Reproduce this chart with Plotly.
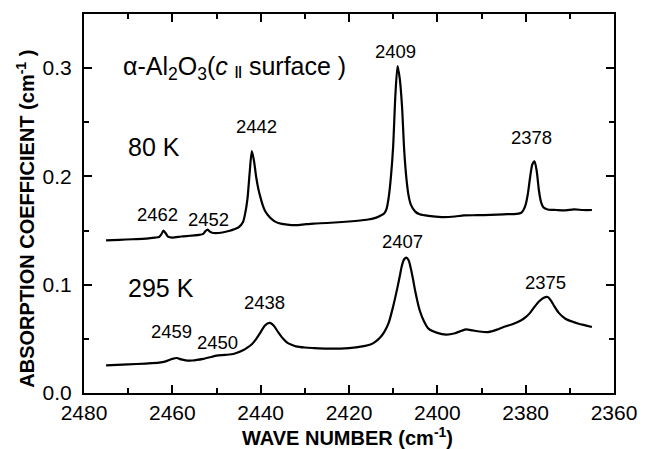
import plotly.graph_objects as go

# Absorption spectra of alpha-Al2O3 (c || surface) at two temperatures
wn_80k = [2475, 2472, 2469, 2466, 2464, 2463, 2462.5, 2462, 2461.5, 2461, 2460, 2458, 2456,
          2454, 2453, 2452.5, 2452, 2451.5, 2451, 2449, 2447, 2446, 2445, 2444, 2443.5, 2443,
          2442.5, 2442, 2441.5, 2441, 2440.5, 2440, 2439.5, 2439, 2438, 2437, 2436, 2434, 2432,
          2430, 2428, 2425, 2420, 2416, 2414, 2413, 2412, 2411.5, 2411, 2410.5, 2410, 2409.5,
          2409, 2408.5, 2408, 2407.5, 2407, 2406.5, 2406, 2405, 2404, 2402, 2399, 2396, 2394,
          2391, 2388, 2385, 2382, 2381, 2380.5, 2380, 2379.5, 2379, 2378.5, 2378, 2377.5, 2377,
          2376.5, 2376, 2375, 2373, 2371, 2369, 2367, 2365]
abs_80k = [0.141, 0.1415, 0.142, 0.1425, 0.1435, 0.144, 0.1465, 0.150, 0.1475, 0.1445, 0.1435,
           0.1445, 0.1452, 0.146, 0.147, 0.1495, 0.151, 0.149, 0.148, 0.148, 0.1498, 0.1512,
           0.153, 0.158, 0.166, 0.179, 0.203, 0.2235, 0.214, 0.199, 0.188, 0.180, 0.173, 0.168,
           0.1625, 0.159, 0.157, 0.1555, 0.155, 0.1558, 0.1565, 0.157, 0.1584, 0.160, 0.1617,
           0.1635, 0.166, 0.170, 0.181, 0.200, 0.228, 0.275, 0.302, 0.290, 0.265, 0.224, 0.198,
           0.182, 0.174, 0.1675, 0.165, 0.1635, 0.1625, 0.163, 0.164, 0.1642, 0.1645, 0.165,
           0.1655, 0.1665, 0.169, 0.174, 0.184, 0.199, 0.211, 0.214, 0.205, 0.187, 0.176, 0.1715,
           0.1695, 0.169, 0.1687, 0.1695, 0.169, 0.169]

wn_295k = [2475, 2470, 2466, 2463, 2461.5, 2460, 2459, 2458, 2457, 2455.5, 2453, 2451, 2450,
           2448, 2446, 2444, 2443, 2442, 2441, 2440, 2439, 2438, 2437.5, 2437, 2436, 2435, 2434,
           2433, 2432, 2430, 2428, 2425, 2420, 2417, 2415, 2414, 2413, 2412, 2411, 2410, 2409,
           2408.5, 2408, 2407.5, 2407, 2406.5, 2406, 2405.5, 2405, 2404, 2403, 2402, 2400, 2398,
           2396, 2394.5, 2393.5, 2392, 2390.5, 2388.5, 2386.5, 2385, 2383, 2381, 2380, 2379,
           2378, 2377, 2376, 2375, 2374.3, 2373.5, 2372.5, 2371, 2369.5, 2368, 2366.5, 2365]
abs_295k = [0.0256, 0.0264, 0.0272, 0.0280, 0.0292, 0.0315, 0.0323, 0.0310, 0.0302, 0.0300,
            0.0315, 0.0335, 0.0345, 0.0352, 0.0362, 0.0394, 0.0420, 0.0450, 0.0500, 0.0563,
            0.0625, 0.0647, 0.0640, 0.0620, 0.0560, 0.0505, 0.0465, 0.0445, 0.0431, 0.0420,
            0.0415, 0.0410, 0.0415, 0.0430, 0.0450, 0.0475, 0.0510, 0.0565, 0.0650, 0.0800,
            0.0980, 0.1080, 0.1180, 0.1235, 0.1250, 0.1225, 0.1150, 0.1050, 0.0940, 0.0764,
            0.0660, 0.0594, 0.0555, 0.0540, 0.0552, 0.0575, 0.0588, 0.0578, 0.0568, 0.0563,
            0.0585, 0.0610, 0.0635, 0.0672, 0.0700, 0.0740, 0.0795, 0.0845, 0.0878, 0.0887,
            0.0855, 0.0800, 0.0740, 0.0686, 0.0660, 0.0640, 0.0625, 0.0610]

# Labelled peak wavenumbers for each spectrum
peaks_80k = [2462, 2452, 2442, 2409, 2378]
peaks_295k = [2459, 2450, 2438, 2407, 2375]

# Where each peak label sits (wavenumber, absorption)
label_pos_80k = [(2463.4, 0.1648), (2451.9, 0.160), (2440.9, 0.2464), (2409.5, 0.3157), (2378.7, 0.2356)]
label_pos_295k = [(2460.3, 0.0571), (2449.7, 0.0463), (2439.1, 0.0833), (2407.9, 0.1403), (2375.6, 0.1022)]

FONT = "Liberation Sans, Arial, Helvetica, sans-serif"

fig = go.Figure()
for wn, ab in [(wn_80k, abs_80k), (wn_295k, abs_295k)]:
    fig.add_trace(go.Scatter(x=wn, y=ab, mode="lines",
                             line=dict(color="black", width=2.2, shape="spline", smoothing=0.7),
                             showlegend=False, hoverinfo="skip"))

annotations = []
for peaks, pos in [(peaks_80k, label_pos_80k), (peaks_295k, label_pos_295k)]:
    for p, (lx, ly) in zip(peaks, pos):
        annotations.append(dict(x=lx, y=ly, text=str(p), showarrow=False,
                                xanchor="center", yanchor="middle",
                                font=dict(size=18.5, color="black", family=FONT)))

annotations += [
    dict(x=2470.6, y=0.227, text="80 K", showarrow=False, xanchor="left", yanchor="middle",
         font=dict(size=25, color="black", family=FONT)),
    dict(x=2470.6, y=0.0967, text="295 K", showarrow=False, xanchor="left", yanchor="middle",
         font=dict(size=25, color="black", family=FONT)),
    dict(x=2471.7, y=0.300,
         text="α-Al<sub>2</sub>O<sub>3</sub>(<i>c</i> <span style='font-size:13px'><b>||</b></span> surface )",
         showarrow=False, xanchor="left", yanchor="middle",
         font=dict(size=25, color="black", family=FONT)),
    dict(xref="paper", yref="paper", x=0.498, y=-0.115,
         text="<b>WAVE NUMBER (cm<sup>-1</sup>)</b>", showarrow=False,
         xanchor="center", yanchor="middle",
         font=dict(size=20, color="black", family=FONT)),
    dict(xref="paper", yref="paper", x=-0.112, y=0.459, textangle=-90,
         text="<b>ABSORPTION COEFFICIENT (cm<sup>-1</sup> )</b>", showarrow=False,
         xanchor="center", yanchor="middle",
         font=dict(size=20, color="black", family=FONT)),
]

axis_common = dict(showline=True, linewidth=2, linecolor="black", mirror="allticks",
                   ticks="inside", ticklen=8, tickwidth=2, tickcolor="black",
                   showgrid=False, zeroline=False, ticklabeloverflow="allow",
                   tickfont=dict(size=21, color="black", family=FONT))

fig.update_xaxes(range=[2480, 2360], dtick=20, tick0=2360,
                 minor=dict(ticks="inside", ticklen=5, tickwidth=2, tickcolor="black", dtick=10),
                 ticklabelstandoff=0, **axis_common)
fig.update_yaxes(range=[0, 0.35], dtick=0.1, tick0=0, tickformat=".1f",
                 minor=dict(ticks="inside", ticklen=5, tickwidth=2, tickcolor="black", dtick=0.05),
                 ticklabelstandoff=6, **axis_common)

fig.update_layout(width=649, height=449,
                  margin=dict(l=84, r=23, t=14, b=56),
                  paper_bgcolor="white", plot_bgcolor="white",
                  annotations=annotations)

fig.write_html("out.html")
